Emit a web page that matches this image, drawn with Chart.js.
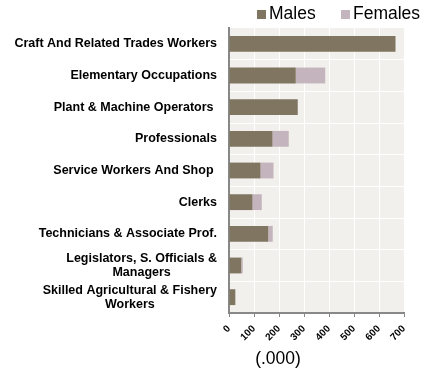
<!DOCTYPE html>
<html>
<head>
<meta charset="utf-8">
<script src="https://cdn.jsdelivr.net/npm/chart.js@4.4.0/dist/chart.umd.min.js"></script>
<style>
  body { margin: 0; background: #fff; }
  #wrap { width: 429px; height: 370px; }
</style>
</head>
<body>
<div id="wrap"><canvas id="occupations" width="429" height="370"></canvas></div>
<script>
// employed persons by occupation, in thousands
const occupations = [
  'Craft And Related Trades Workers',
  'Elementary Occupations',
  'Plant & Machine Operators ',
  'Professionals',
  'Service Workers And Shop ',
  'Clerks',
  'Technicians & Associate Prof.',
  ['Legislators, S. Officials &', 'Managers'],
  ['Skilled Agricultural & Fishery', 'Workers']
];
const males = [666, 267, 275, 174, 126, 94, 157, 49, 25];
const females = [0, 118, 0, 65, 52, 37, 18, 6, 1];
const xTicks = [0, 100, 200, 300, 400, 500, 600, 700];
const unitTitle = '(.000)';

const FONT = "'Liberation Sans', Arial, sans-serif";

// grey-ish panel behind the bars
const plotBg = {
  id: 'plotBg',
  beforeDraw(chart) {
    const { ctx, chartArea: a } = chart;
    ctx.save();
    ctx.fillStyle = '#f2f0ec';
    ctx.fillRect(a.left, a.top, a.right - a.left, a.bottom - a.top);
    ctx.restore();
  }
};

// category names (two-line ones centred on their first line), legend and unit
const sideText = {
  id: 'sideText',
  afterDraw(chart) {
    const ctx = chart.ctx;
    const y = chart.scales.y;
    const right = y.right - 12;
    ctx.save();
    ctx.fillStyle = '#000';
    ctx.font = 'bold 12.5px ' + FONT;
    ctx.textBaseline = 'middle';
    occupations.forEach((lab, i) => {
      const cy = y.getPixelForValue(i);
      if (Array.isArray(lab)) {
        const cx = right - ctx.measureText(lab[0]).width / 2;
        ctx.textAlign = 'center';
        lab.forEach((line, j) => {
          ctx.fillText(line, cx, cy + (j - (lab.length - 1) / 2) * 14);
        });
      } else {
        ctx.textAlign = 'right';
        ctx.fillText(lab, right, cy);
      }
    });

    // legend
    ctx.font = '17.5px ' + FONT;
    ctx.textAlign = 'left';
    ctx.textBaseline = 'alphabetic';
    const legendX = [257, 341];
    chart.data.datasets.forEach((ds, i) => {
      ctx.fillStyle = ds.backgroundColor;
      ctx.fillRect(legendX[i], 10, 9, 9);
      ctx.fillStyle = '#000';
      ctx.fillText(ds.label, legendX[i] + 12, 19);
    });

    // unit under the value axis
    ctx.textAlign = 'center';
    ctx.textBaseline = 'middle';
    ctx.fillText(unitTitle, 278, 359);
    ctx.restore();
  }
};

new Chart(document.getElementById('occupations'), {
  type: 'bar',
  data: {
    labels: occupations,
    datasets: [
      { label: 'Males', data: males, backgroundColor: '#7f7560' },
      { label: 'Females', data: females, backgroundColor: '#c4b4bd' }
    ]
  },
  options: {
    indexAxis: 'y',
    responsive: false,
    animation: false,
    layout: { padding: { top: 28, right: 25 } },
    plugins: { legend: { display: false }, tooltip: { enabled: false } },
    datasets: { bar: { categoryPercentage: 1, barPercentage: 0.5 } },
    scales: {
      x: {
        stacked: true,
        min: 0,
        max: 700,
        afterBuildTicks: s => { s.ticks = xTicks.map(v => ({ value: v })); },
        grid: { color: '#fff', tickColor: '#888', tickLength: 4 },
        border: { color: '#888', width: 2 },
        ticks: {
          font: { family: FONT, size: 10, weight: 'bold' },
          color: '#000',
          minRotation: 45,
          maxRotation: 45,
          padding: 6
        },
        afterFit: s => { s.height = 57; }
      },
      y: {
        stacked: true,
        grid: { color: '#fff', drawTicks: false },
        border: { color: '#888', width: 2 },
        ticks: { display: false },
        afterFit: s => { s.width = 229; }
      }
    }
  },
  plugins: [plotBg, sideText]
});
</script>
</body>
</html>
